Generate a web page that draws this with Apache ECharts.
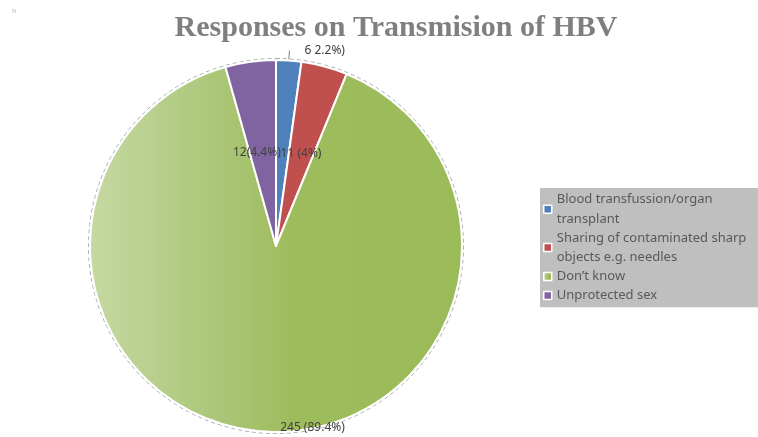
<!DOCTYPE html>
<html>
<head>
<meta charset="utf-8">
<script src="https://cdn.jsdelivr.net/npm/echarts@6/dist/echarts.min.js"></script>
<style>
  html, body { margin: 0; padding: 0; background: #fff; }
  #chart { width: 758px; height: 437px; }
</style>
</head>
<body>
<div id="chart"></div>
<script>
// Survey responses: how is HBV transmitted?
const categories = [
  'Blood transfussion/organ transplant',
  'Sharing of contaminated sharp objects e.g. needles',
  'Don\u2019t know',
  'Unprotected sex'
];
const counts = [6, 11, 245, 12];
const colors = ['#4f81bd', '#c0504d', '#9bbb59', '#8064a2'];

// Label layouts per slice: value and percent arranged as printed on the chart
const labelPatterns = ['{v} {p}%)', '{v} ({p}%)', '{v} ({p}%)', '{v}({p}%)'];

const chart = echarts.init(document.getElementById('chart'), null, { renderer: 'canvas' });

const greenFill = new echarts.graphic.LinearGradient(0, 0, 1, 0, [
  { offset: 0, color: '#c6d9a2' },
  { offset: 0.25, color: '#b2cb84' },
  { offset: 0.55, color: '#9dbc5c' },
  { offset: 1, color: '#9bbb59' }
]);

const sliceData = categories.map((name, i) => ({
  name: name,
  value: counts[i],
  itemStyle: { color: i === 2 ? greenFill : colors[i] },
  label: i === 0 ? {
    position: 'outside',
    distanceToLabelLine: 15,
    padding: [0, 0, 11, 0]
  } : { position: 'inside' },
  labelLine: i === 0 ? { show: true, length: 10, length2: 0 } : { show: false }
}));

const option = {
  backgroundColor: '#ffffff',
  animation: false,
  title: {
    text: 'Responses on Transmision of HBV',
    left: 391,
    top: 8,
    textAlign: 'center',
    textStyle: {
      fontFamily: 'Liberation Serif',
      fontWeight: 'bold',
      fontSize: 30,
      color: '#7f7f7f'
    }
  },
  graphic: [{
    type: 'text',
    left: 12,
    top: 8,
    style: { text: 'N', fontSize: 6, fill: '#b0b0b0', fontFamily: 'Liberation Serif' }
  }],
  legend: {
    data: categories,
    orient: 'vertical',
    left: 540,
    top: 188,
    padding: [2, 4, 2, 3],
    itemGap: 0,
    itemWidth: 8,
    itemHeight: 8,
    icon: 'rect',
    selectedMode: false,
    backgroundColor: '#bfbfbf',
    itemStyle: { borderColor: '#ffffff', borderWidth: 1.5 },
    textStyle: {
      fontFamily: 'Noto Sans',
      fontSize: 13,
      color: '#595959',
      lineHeight: 19.2,
      width: 205,
      overflow: 'break'
    }
  },
  series: [
    {
      // faint dashed rim around the pie
      type: 'pie',
      silent: true,
      center: [276, 246],
      radius: 187.5,
      z: 1,
      label: { show: false },
      labelLine: { show: false },
      itemStyle: {
        color: 'rgba(0,0,0,0)',
        borderColor: '#a8a8a8',
        borderWidth: 1,
        borderType: [4, 3]
      },
      data: [{ name: 'rim', value: 1 }]
    },
    {
      type: 'pie',
      name: 'Responses',
      center: [276, 246],
      radius: 186,
      startAngle: 90,
      clockwise: true,
      z: 2,
      percentPrecision: 1,
      avoidLabelOverlap: false,
      itemStyle: { borderColor: '#ffffff', borderWidth: 2 },
      label: {
        show: true,
        color: '#404040',
        fontFamily: 'Noto Sans',
        fontSize: 12,
        textBorderWidth: 0,
        formatter: p => labelPatterns[p.dataIndex]
          .replace('{v}', p.value)
          .replace('{p}', String(p.percent))
      },
      labelLine: { lineStyle: { color: '#7f7f7f', width: 1 } },
      labelLayout: params => {
        if (params.dataIndex === 2) return { dx: 42, dy: 86 };
        if (params.dataIndex === 3) return { dx: -6, dy: 2 };
        return {};
      },
      emphasis: { disabled: true },
      data: sliceData
    }
  ]
};

chart.setOption(option);
</script>
</body>
</html>
